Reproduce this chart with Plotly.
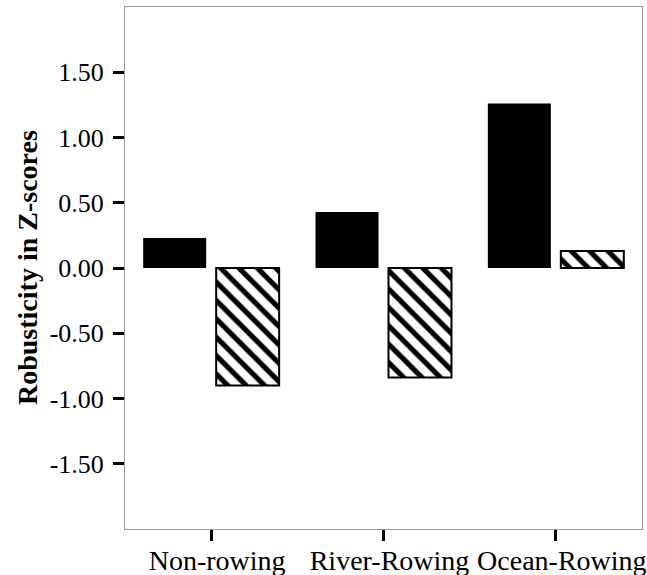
import plotly.graph_objects as go

categories = ["Non-rowing", "River-Rowing", "Ocean-Rowing"]
solid_values = [0.23, 0.43, 1.26]
hatched_values = [-0.90, -0.84, 0.13]
y_tick_values = [-1.5, -1.0, -0.5, 0.0, 0.5, 1.0, 1.5]
y_tick_labels = ["-1.50", "-1.00", "-0.50", "0.00", "0.50", "1.00", "1.50"]
y_title = "Robusticity in Z-scores"

positions = list(range(len(categories)))

FONT = "'Liberation Serif', 'Times New Roman', serif"

fig = go.Figure()
fig.add_trace(go.Bar(
    x=positions, y=solid_values,
    marker=dict(color="black", line=dict(color="black", width=0)),
    showlegend=False,
))
fig.add_trace(go.Bar(
    x=positions, y=hatched_values,
    marker=dict(
        color="white",
        line=dict(color="black", width=2),
        pattern=dict(shape="\\", fgcolor="black", bgcolor="white",
                     fgopacity=1, size=13, solidity=0.4, fillmode="replace"),
    ),
    showlegend=False,
))

fig.update_layout(
    width=647, height=575,
    margin=dict(l=125, r=5, t=7, b=46, autoexpand=False),
    paper_bgcolor="white", plot_bgcolor="white",
    barmode="group", bargap=0.153, bargroupgap=0.137,
    font=dict(family=FONT, color="black"),
    xaxis=dict(
        range=[-0.5, 2.5], automargin=False,
        tickmode="array", tickvals=positions, ticktext=categories,
        ticks="outside", ticklen=11, tickwidth=3, tickcolor="black",
        tickfont=dict(size=28, family=FONT),
        ticklabelshift=6, ticklabelstandoff=-5,
        showline=True, linecolor="#9a9a9a", linewidth=1, mirror=True,
        showgrid=False, zeroline=False, fixedrange=True,
    ),
    yaxis=dict(
        range=[-2, 2], automargin=False,
        tickmode="array", tickvals=y_tick_values, ticktext=y_tick_labels,
        ticks="outside", ticklen=11, tickwidth=3, tickcolor="black",
        tickfont=dict(size=26, family=FONT),
        ticklabelstandoff=4,
        showline=True, linecolor="#9a9a9a", linewidth=1, mirror=True,
        showgrid=False, zeroline=False, fixedrange=True,
    ),
    annotations=[dict(
        text="<b>" + y_title + "</b>", textangle=-90,
        xref="paper", yref="paper", x=(27 - 125) / 517, y=0.5,
        xanchor="center", yanchor="middle", showarrow=False,
        font=dict(size=28, family=FONT, color="black"),
    )],
)

fig.write_html(
    "out.html",
    config={"displayModeBar": False},
    post_script="document.body.style.margin='0';document.body.style.overflow='hidden';",
)
